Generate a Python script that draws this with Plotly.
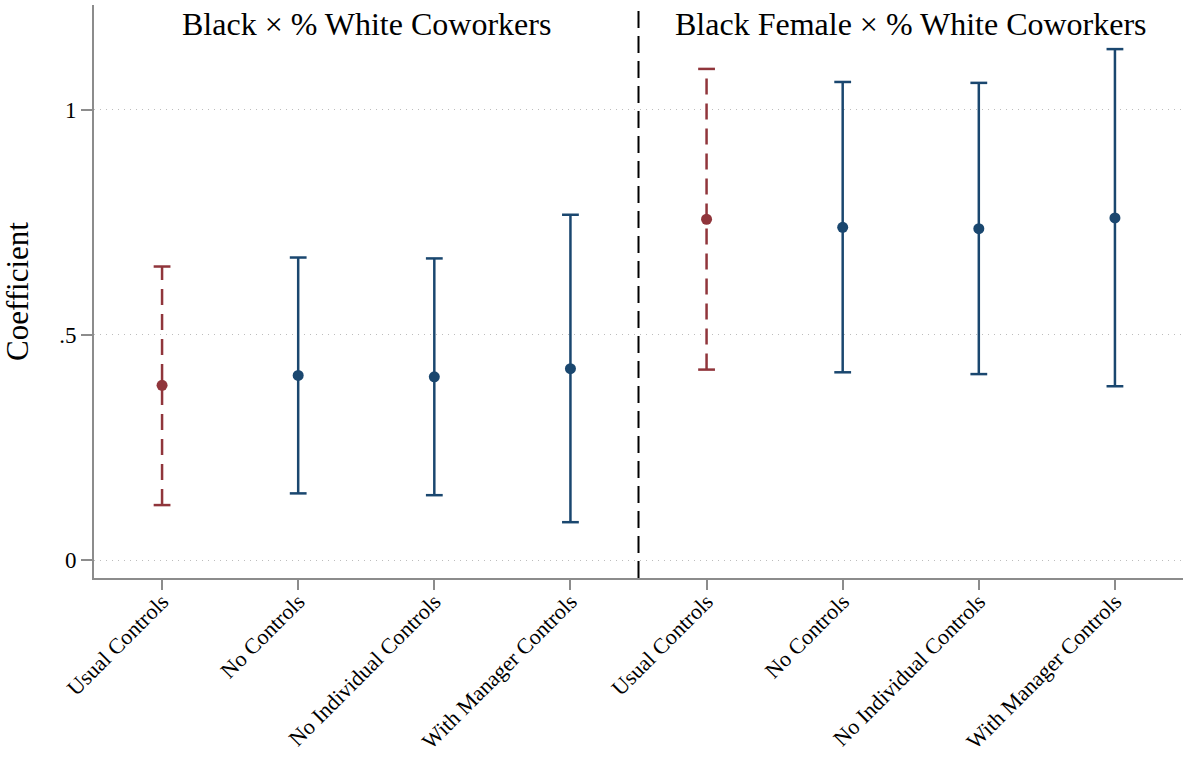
import plotly.graph_objects as go

# ---- data ----
categories = ["Usual Controls", "No Controls", "No Individual Controls", "With Manager Controls",
              "Usual Controls", "No Controls", "No Individual Controls", "With Manager Controls"]
positions = [1, 2, 3, 4, 5, 6, 7, 8]
coef = [0.388, 0.410, 0.407, 0.425, 0.757, 0.739, 0.736, 0.760]
ci_low = [0.122, 0.148, 0.144, 0.084, 0.423, 0.417, 0.413, 0.386]
ci_high = [0.652, 0.672, 0.670, 0.767, 1.091, 1.062, 1.060, 1.135]
is_usual = [True, False, False, False, True, False, False, False]
panel_titles = ["Black × % White Coworkers", "Black Female × % White Coworkers"]
panel_centers = [2.5, 6.5]
divider_x = 4.5
ytick_vals = [0, 0.5, 1]
ytick_text = ["0", ".5", "1"]

RED = "#90353b"
BLUE = "#1a476f"
FONT = "Liberation Serif"

fig = go.Figure()

def add_group(sel, color, dash):
    xs, ys = [], []
    for i in sel:
        xs += [positions[i], positions[i], None]
        ys += [ci_low[i], ci_high[i], None]
    fig.add_trace(go.Scatter(x=xs, y=ys, mode="lines",
                             line=dict(color=color, width=2.5, dash=dash),
                             hoverinfo="skip", showlegend=False))
    cx = [positions[i] for i in sel] * 2
    cy = [ci_low[i] for i in sel] + [ci_high[i] for i in sel]
    fig.add_trace(go.Scatter(x=cx, y=cy, mode="markers",
                             marker=dict(symbol="line-ew", size=12,
                                         line=dict(color=color, width=2.5)),
                             hoverinfo="skip", showlegend=False))
    fig.add_trace(go.Scatter(x=[positions[i] for i in sel], y=[coef[i] for i in sel],
                             mode="markers", marker=dict(color=color, size=11),
                             showlegend=False))

red_idx = [i for i in range(len(positions)) if is_usual[i]]
blue_idx = [i for i in range(len(positions)) if not is_usual[i]]
add_group(red_idx, RED, "16px,9px")
add_group(blue_idx, BLUE, "solid")

fig.add_shape(type="line", xref="x", yref="paper", x0=divider_x, x1=divider_x, y0=0, y1=1,
              line=dict(color="black", width=2, dash="17px,8px"))

for t, c in zip(panel_titles, panel_centers):
    fig.add_annotation(x=c, xref="x", y=1, yref="paper", yanchor="top", yshift=1, text=t,
                       showarrow=False, font=dict(family=FONT, size=32, color="black"))

fig.update_layout(
    width=1189, height=759,
    margin=dict(l=94, r=6, t=5, b=181),
    plot_bgcolor="white", paper_bgcolor="white",
    font=dict(family=FONT, color="black"),
)
fig.update_xaxes(
    range=[0.5, 8.5], tickmode="array", tickvals=positions, ticktext=categories,
    tickangle=-45, tickfont=dict(family=FONT, size=22, color="black"),
    showgrid=False, zeroline=False, showline=True, linecolor="#8c8c8c", linewidth=2,
    ticks="outside", ticklen=10, tickwidth=2, tickcolor="#8c8c8c", automargin=False,
    ticklabelstandoff=-10,
)
fig.update_yaxes(
    range=[-0.04, 1.233], tickmode="array", tickvals=ytick_vals, ticktext=ytick_text,
    tickfont=dict(family=FONT, size=23, color="black"),
    showgrid=True, gridcolor="#bdbdbd", gridwidth=1, griddash="1px,5px",
    zeroline=False, showline=True, linecolor="#8c8c8c", linewidth=2,
    ticks="outside", ticklen=11, tickwidth=2, tickcolor="#8c8c8c", automargin=False,
    title=dict(text="Coefficient", font=dict(family=FONT, size=31, color="black"), standoff=23),
)

fig.write_html("out.html", config={"displayModeBar": False},
               post_script="document.body.style.margin='0';document.body.style.padding='0';")
